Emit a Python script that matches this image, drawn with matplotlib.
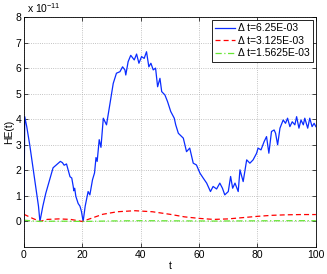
import numpy as np
import matplotlib.pyplot as plt
from matplotlib.ticker import ScalarFormatter

plt.rcParams['font.family'] = ['Liberation Sans', 'DejaVu Sans']
plt.rcParams['font.size'] = 7.5
plt.rcParams['mathtext.fontset'] = 'custom'
plt.rcParams['mathtext.rm'] = 'Liberation Sans'

# dados (unidades de 1e-11)
t_a = [0, 0.3, 1, 2, 3, 4, 5, 5.5, 6.5, 7.5, 8.5, 10, 11, 12, 12.5, 13.2, 13.8, 14.6, 15.2,
       15.8, 16.4, 16.9, 17.1, 17.4, 17.8, 18.6, 19.2, 19.7, 20.3, 21, 22, 22.6, 23.5, 24.2,
       24.7, 25.1, 25.8, 26.4, 27.2, 28.3, 29.5, 30.6, 31.7, 32.9, 33.8, 34.6, 34.9, 35.7,
       36.6, 37.8, 38.6, 39.4, 40.3, 41.2, 42, 42.8, 43.5, 44.3, 45.1, 45.8, 46.6, 47.2, 48.3,
       49.2, 50.3, 51.5, 52, 52.9, 54.6, 55.7, 56.8, 58, 59.1, 60.3, 61.4, 62.6, 63.9, 64.8,
       66, 67.1, 68, 68.8, 70, 70.8, 71.5, 72.3, 73.4, 74, 75.1, 76.3, 77.4, 78.5, 79.7, 80.2,
       81.2, 82.3, 83.1, 83.9, 84.8, 85.7, 86.2, 86.9, 87.7, 88.8, 89.6, 90.3, 91.1, 91.9,
       92.8, 93.4, 94.2, 94.9, 95.7, 96.2, 97.2, 97.9, 98.7, 99.4, 100]
he_a = [0, 4.1, 3.7, 3.0, 2.2, 1.4, 0.6, 0.0, 0.6, 1.1, 1.5, 2.1, 2.2, 2.3, 2.35, 2.3, 2.2,
        2.25, 2.0, 1.75, 1.7, 1.37, 1.2, 1.3, 0.98, 0.7, 0.6, 0.4, 0.0, 0.6, 1.17, 1.04, 1.63,
        1.9, 2.5, 2.35, 3.2, 2.9, 4.04, 3.78, 4.62, 5.4, 5.8, 5.86, 6.05, 5.93, 5.73, 6.25,
        6.5, 6.32, 6.55, 6.19, 6.45, 6.38, 6.64, 6.05, 6.19, 5.93, 6.0, 5.27, 5.6, 5.08, 4.95,
        4.69, 4.3, 4.04, 3.78, 3.45, 3.26, 2.73, 2.87, 2.28, 2.21, 1.89, 1.7, 1.5, 1.17, 1.37,
        1.27, 1.5, 1.3, 1.04, 1.17, 1.76, 1.3, 1.5, 1.17, 2.02, 1.56, 2.41, 2.28, 2.41, 2.67,
        2.87, 2.8, 3.13, 3.32, 2.67, 3.52, 3.58, 3.45, 3.0, 3.65, 3.97, 3.84, 4.04, 3.71, 3.9,
        3.78, 4.1, 3.65, 3.97, 3.78, 4.04, 3.65, 4.04, 3.71, 3.84, 3.71]

t_b = [0, 3, 5.5, 8, 12, 16, 20, 23, 27, 32, 38, 44, 50, 55, 60, 65, 70, 75, 80, 85, 90, 95, 100]
he_b = [0.28, 0.12, 0.0, 0.08, 0.1, 0.08, 0.0, 0.12, 0.28, 0.38, 0.42, 0.38, 0.28, 0.18,
        0.12, 0.08, 0.1, 0.15, 0.2, 0.24, 0.26, 0.27, 0.27]

t_c = [0, 3, 5.5, 10, 15, 20, 30, 40, 50, 60, 65, 70, 80, 90, 100]
he_c = [0.05, 0.02, 0.0, 0.01, 0.01, 0.0, 0.02, 0.03, 0.025, 0.02, 0.015, 0.02, 0.025, 0.03, 0.03]

labels = ['\u0394 t=6.25E-03', '\u0394 t=3.125E-03', '\u0394 t=1.5625E-03']

fig = plt.figure(figsize=(3.27, 2.74), dpi=100)
ax = fig.add_axes([0.073, 0.0985, 0.893, 0.8395])

escala = 1e-11
ax.plot(t_a, np.array(he_a) * escala, color='#0a2cff', lw=0.9, label=labels[0])
ax.plot(t_b, np.array(he_b) * escala, color='r', lw=0.9, ls=(0, (4, 2.5)), label=labels[1])
ax.plot(t_c, np.array(he_c) * escala, color='#66e633', lw=0.9, ls=(0, (5, 2, 1, 2)), label=labels[2])

ax.set_xlim(0, 100)
ax.set_ylim(-1e-11, 8e-11)
ax.set_xticks(np.arange(0, 101, 20))
ax.set_yticks(np.arange(0, 9) * escala)
ax.set_yticklabels([str(i) for i in range(9)])
ax.text(0.01, 1.008, 'x 10$^{-11}$', transform=ax.transAxes, ha='left', va='bottom', fontsize=7.5)
ax.grid(True, ls=':', color='#b0b0b0', lw=0.6)
ax.tick_params(direction='in', top=True, right=True, length=3, width=0.5, pad=2)
for s in ax.spines.values():
    s.set_linewidth(0.6)

ax.set_xlabel('t', labelpad=1)
ax.set_ylabel('HE(t)', labelpad=1)
ax.legend(loc='upper right', fancybox=False, edgecolor='k', framealpha=1,
          handlelength=1.9, handletextpad=0.3, borderpad=0.3, labelspacing=0.25,
          borderaxespad=0.3, fontsize=7.5).get_frame().set_linewidth(0.6)

fig.savefig('out.png', dpi=100)
